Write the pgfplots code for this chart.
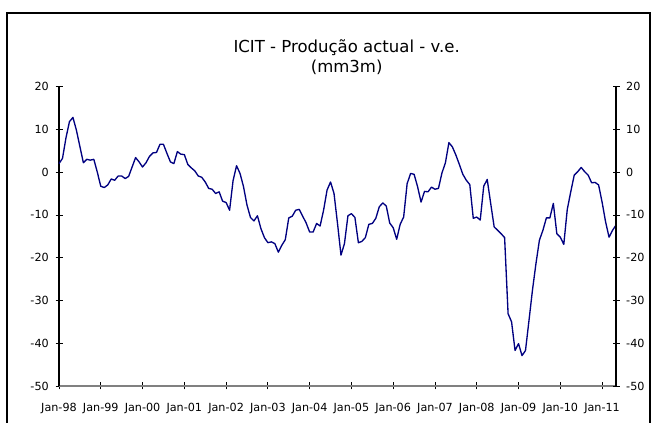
\documentclass[border=0pt]{standalone}
\usepackage{pgfplots}
\pgfplotsset{compat=1.18}
\usepackage{pgfplotstable}
\usepackage{fontspec}
\setmainfont{DejaVu Sans}
\definecolor{navy}{RGB}{0,0,128}
\definecolor{axgray}{RGB}{128,128,128}
\pgfplotstableread{
i v
0 2.0
1 3.2
2 8.0
3 11.8
4 12.8
5 9.8
6 6.0
7 2.2
8 3.0
9 2.8
10 3.0
11 0.0
12 -3.3
13 -3.6
14 -3.0
15 -1.6
16 -1.9
17 -0.9
18 -0.9
19 -1.5
20 -1.0
21 1.2
22 3.4
23 2.4
24 1.2
25 2.2
26 3.7
27 4.5
28 4.6
29 6.5
30 6.5
31 4.4
32 2.4
33 2.0
34 4.8
35 4.2
36 4.1
37 1.8
38 1.0
39 0.3
40 -0.9
41 -1.2
42 -2.3
43 -3.8
44 -4.0
45 -5.0
46 -4.6
47 -6.8
48 -7.1
49 -8.9
50 -2.0
51 1.5
52 -0.3
53 -3.4
54 -7.7
55 -10.6
56 -11.4
57 -10.2
58 -13.2
59 -15.3
60 -16.5
61 -16.3
62 -16.7
63 -18.7
64 -17.1
65 -15.8
66 -10.7
67 -10.3
68 -8.9
69 -8.7
70 -10.3
71 -11.9
72 -14.0
73 -14.0
74 -12.0
75 -12.6
76 -8.9
77 -4.2
78 -2.3
79 -5.0
80 -12.0
81 -19.4
82 -16.7
83 -10.2
84 -9.7
85 -10.6
86 -16.5
87 -16.2
88 -15.3
89 -12.2
90 -12.0
91 -10.8
92 -8.1
93 -7.2
94 -7.9
95 -11.9
96 -13.0
97 -15.7
98 -12.2
99 -10.5
100 -2.7
101 -0.3
102 -0.5
103 -3.4
104 -7.0
105 -4.5
106 -4.6
107 -3.5
108 -4.0
109 -3.8
110 -0.2
111 2.2
112 6.9
113 5.9
114 4.0
115 1.8
116 -0.5
117 -1.9
118 -2.9
119 -10.8
120 -10.5
121 -11.2
122 -3.3
123 -1.7
124 -7.3
125 -12.8
126 -13.6
127 -14.4
128 -15.3
129 -33.1
130 -35.0
131 -41.7
132 -40.1
133 -42.9
134 -41.7
135 -34.7
136 -27.6
137 -21.4
138 -15.9
139 -13.6
140 -10.7
141 -10.7
142 -7.3
143 -14.4
144 -15.2
145 -16.9
146 -8.7
147 -4.6
148 -0.7
149 0.1
150 1.1
151 0.1
152 -0.7
153 -2.5
154 -2.4
155 -3.0
156 -7.0
157 -11.6
158 -15.2
159 -13.6
160 -12.4
}\datatable
\begin{document}
\begin{tikzpicture}
\useasboundingbox (0,0) rectangle (491.25pt,317.25pt);
\draw[line width=1.1pt] (5.25pt,-3pt) -- (5.25pt,307.5pt) -- (487.5pt,307.5pt) -- (487.5pt,-3pt);
\node[font=\fontsize{12.4}{14}\selectfont] at (260pt,281.5pt) {ICIT - Produção actual - v.e.};
\node[font=\fontsize{12.4}{14}\selectfont] at (260pt,267pt) {(mm3m)};
\begin{axis}[
  at={(44.25pt,27.75pt)}, anchor=south west,
  scale only axis, width=417.75pt, height=224.55pt,
  xmin=0, xmax=160, ymin=-50, ymax=20,
  axis x line=bottom, axis y line=left,
  axis line style={-},
  x axis line style={draw=axgray, line width=0.8pt},
  y axis line style={draw=black, line width=0.8pt},
  xtick={0,12,...,156},
  xticklabels={Jan-98,Jan-99,Jan-00,Jan-01,Jan-02,Jan-03,Jan-04,Jan-05,Jan-06,Jan-07,Jan-08,Jan-09,Jan-10,Jan-11},
  ytick={-50,-40,-30,-20,-10,0,10,20},
  yticklabels={-50,-40,-30,-20,-10,0,10,20},
  tick align=center, major tick length=5.25pt,
  tick style={black, line width=0.6pt},
  ticklabel style={font=\fontsize{8.4}{10}\selectfont},
  xticklabel style={yshift=-6.5pt},
  yticklabel style={xshift=-1.5pt},
  clip=false,
]
\addplot[color=navy, line width=1pt, line join=round, mark=none] table[x=i,y=v] {\datatable};
\end{axis}
\begin{axis}[
  at={(44.25pt,27.75pt)}, anchor=south west,
  scale only axis, width=417.75pt, height=224.55pt,
  xmin=0, xmax=160, ymin=-50, ymax=20,
  axis x line=none, axis y line=right,
  axis line style={-, draw=black, line width=0.8pt},
  ytick={-50,-40,-30,-20,-10,0,10,20},
  yticklabels={-50,-40,-30,-20,-10,0,10,20},
  tick align=center, major tick length=5.25pt,
  tick style={black, line width=0.6pt},
  ticklabel style={font=\fontsize{8.4}{10}\selectfont},
  yticklabel style={xshift=1.5pt},
]
\addplot[draw=none] coordinates {(0,0)};
\end{axis}
\end{tikzpicture}
\end{document}
